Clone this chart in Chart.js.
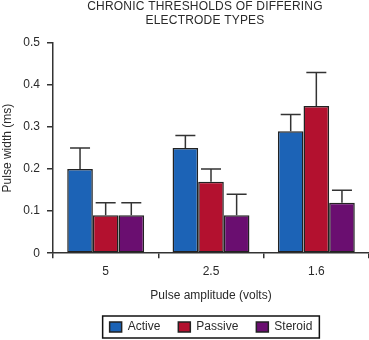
<!DOCTYPE html>
<html>
<head>
<meta charset="utf-8">
<script src="https://cdn.jsdelivr.net/npm/chart.js@4"></script>
<style>
  html, body { margin: 0; padding: 0; background: #fff; }
  #wrap { width: 369px; height: 340px; }
</style>
</head>
<body>
<div id="wrap"><canvas id="container"></canvas></div>
<script>
// data
const categories = ['5', '2.5', '1.6'];
const activeValues = [0.20, 0.25, 0.29];
const activeErrors = [0.05, 0.03, 0.04];
const passiveValues = [0.09, 0.17, 0.35];
const passiveErrors = [0.03, 0.03, 0.08];
const steroidValues = [0.09, 0.09, 0.12];
const steroidErrors = [0.03, 0.05, 0.03];
const yTickLabels = ['0', '0.1', '0.2', '0.3', '0.4', '0.5'];
const titleLines = ['CHRONIC THRESHOLDS OF DIFFERING', 'ELECTRODE TYPES'];

const FONT = 'Liberation Sans, Arial, sans-serif';
const INK = '#2a2a2a';

Chart.defaults.font.family = FONT;
Chart.defaults.font.size = 12;
Chart.defaults.color = INK;

// upward error bars with a cap
const errorBars = {
    id: 'errorBars',
    afterDatasetsDraw(chart) {
        const ctx = chart.ctx;
        const y = chart.scales.y;
        ctx.save();
        ctx.strokeStyle = '#333';
        ctx.lineWidth = 1.5;
        chart.data.datasets.forEach((ds, i) => {
            const meta = chart.getDatasetMeta(i);
            meta.data.forEach((bar, j) => {
                const top = y.getPixelForValue(ds.data[j] + ds.errors[j]);
                ctx.beginPath();
                ctx.moveTo(bar.x, bar.y);
                ctx.lineTo(bar.x, top);
                ctx.moveTo(bar.x - 10, top);
                ctx.lineTo(bar.x + 10, top);
                ctx.stroke();
            });
        });
        ctx.restore();
    }
};

// frame around the legend
const legendFrame = {
    id: 'legendFrame',
    afterDraw(chart) {
        const hb = chart.legend.legendHitBoxes;
        if (!hb || !hb.length) return;
        const last = hb[hb.length - 1];
        const ctx = chart.ctx;
        ctx.save();
        ctx.strokeStyle = '#111';
        ctx.lineWidth = 1.5;
        ctx.strokeRect(hb[0].left - 7, hb[0].top - 5, last.left + last.width - hb[0].left + 14, hb[0].height + 10);
        ctx.restore();
    }
};

// title sits over the plot area, not the whole canvas
const plotTitle = {
    id: 'plotTitle',
    afterDraw(chart) {
        const ctx = chart.ctx;
        ctx.save();
        ctx.font = '12px ' + FONT;
        ctx.letterSpacing = '0.2px';
        ctx.fillStyle = INK;
        ctx.textAlign = 'center';
        ctx.textBaseline = 'middle';
        titleLines.forEach((t, i) => ctx.fillText(t, 205, 7 + i * 14));
        ctx.restore();
    }
};

const chart = new Chart(document.getElementById('container'), {
    type: 'bar',
    data: {
        labels: categories,
        datasets: [
            { label: 'Active', data: activeValues, errors: activeErrors, backgroundColor: '#1c63b6' },
            { label: 'Passive', data: passiveValues, errors: passiveErrors, backgroundColor: '#b3112f' },
            { label: 'Steroid', data: steroidValues, errors: steroidErrors, backgroundColor: '#6a0e70' }
        ].map(d => Object.assign(d, {
            borderColor: '#222',
            borderWidth: 1.5,
            borderSkipped: false,
            barPercentage: 1,
            categoryPercentage: 0.73
        }))
    },
    options: {
        responsive: true,
        maintainAspectRatio: false,
        animation: false,
        events: [],
        layout: { padding: { left: 0, right: 0, top: 43, bottom: -3 } },
        plugins: {
            title: { display: false },
            legend: {
                position: 'bottom',
                fullSize: false,
                labels: {
                    boxWidth: 12,
                    boxHeight: 10,
                    padding: 18,
                    color: INK,
                    font: { size: 12 }
                }
            },
            tooltip: { enabled: false }
        },
        scales: {
            x: {
                grid: { drawOnChartArea: false, drawTicks: true, tickLength: 5, color: '#333', lineWidth: 1.5 },
                border: { display: true, color: '#333', width: 1.5 },
                ticks: { padding: 6, color: INK, font: { size: 12 } },
                title: { display: true, text: 'Pulse amplitude (volts)', color: INK, font: { size: 12 }, padding: { top: 4, bottom: 0 } }
            },
            y: {
                min: 0,
                max: 0.5,
                grid: { drawOnChartArea: false, drawTicks: true, tickLength: 6, color: '#333', lineWidth: 1.5 },
                border: { display: true, color: '#333', width: 1.5 },
                ticks: {
                    stepSize: 0.1,
                    padding: 7,
                    color: INK,
                    font: { size: 12 },
                    callback: (v, i) => yTickLabels[i]
                },
                title: { display: true, text: 'Pulse width (ms)', color: INK, font: { size: 12 }, padding: { top: 0, bottom: 2 } },
                afterFit: s => { s.width = 53; }
            }
        }
    },
    plugins: [errorBars, legendFrame, plotTitle]
});
</script>
</body>
</html>
